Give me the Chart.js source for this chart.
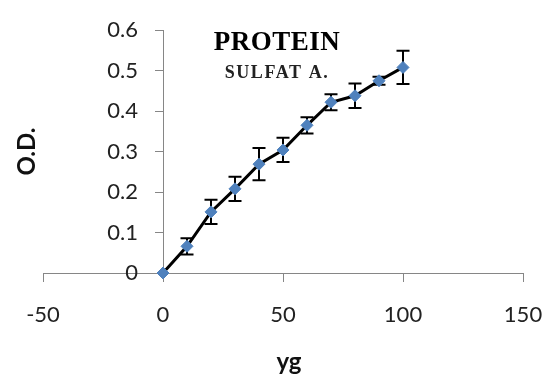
<!DOCTYPE html>
<html>
<head>
<meta charset="utf-8">
<script src="https://cdn.jsdelivr.net/npm/chart.js@4/dist/chart.umd.min.js"></script>
<style>
html,body{margin:0;padding:0;background:#fff;}
#wrap{position:relative;width:547px;height:378px;}
</style>
</head>
<body>
<div id="wrap"><canvas id="c" width="547" height="378"></canvas></div>
<script>
const concentrations = [0, 10, 20, 30, 40, 50, 60, 70, 80, 90, 100];
const odValues = [0, 0.066, 0.151, 0.208, 0.269, 0.304, 0.365, 0.422, 0.438, 0.475, 0.508];
const odErrors = [0, 0.02, 0.03, 0.03, 0.04, 0.03, 0.02, 0.02, 0.03, 0.01, 0.041];
const xTicks = [-50, 0, 50, 100, 150];
const yTicks = [0, 0.1, 0.2, 0.3, 0.4, 0.5, 0.6];
const chartTitle = 'PROTEIN';
const chartSubtitle = 'SULFAT A.';
const xTitle = 'yg';
const yTitle = 'O.D.';

const points = concentrations.map((x, i) => ({x: x, y: odValues[i]}));

const errorBars = {
  id: 'errorBars',
  beforeDatasetsDraw(chart) {
    const {ctx, scales: {x, y}} = chart;
    ctx.save();
    ctx.strokeStyle = '#000';
    ctx.lineWidth = 2;
    concentrations.forEach((c, i) => {
      const e = odErrors[i];
      if (!e) return;
      const px = x.getPixelForValue(c);
      const top = y.getPixelForValue(odValues[i] + e);
      const bot = y.getPixelForValue(odValues[i] - e);
      ctx.beginPath();
      ctx.moveTo(px, top); ctx.lineTo(px, bot);
      ctx.moveTo(px - 6.5, top); ctx.lineTo(px + 6.5, top);
      ctx.moveTo(px - 6.5, bot); ctx.lineTo(px + 6.5, bot);
      ctx.stroke();
    });
    ctx.restore();
  }
};

// y axis sits at x = 0; move its labels left of the tick marks
const yLabelShift = {
  id: 'yLabelShift',
  beforeDraw(chart) {
    const s = chart.scales.y;
    const items = s.getLabelItems(chart.chartArea);
    if (items && !items._shifted) {
      items.forEach(it => { it.options.translation[0] -= 25; });
      items._shifted = true;
    }
  }
};

const texts = {
  id: 'texts',
  afterDraw(chart) {
    const ctx = chart.ctx;
    ctx.save();
    ctx.fillStyle = '#000';
    ctx.textAlign = 'center';
    ctx.textBaseline = 'alphabetic';
    ctx.font = 'bold 27px "Liberation Serif", "Times New Roman", serif';
    ctx.letterSpacing = '0.5px';
    ctx.fillText(chartTitle, 277, 50);
    ctx.font = 'bold 18px "Liberation Serif", "Times New Roman", serif';
    ctx.letterSpacing = '1.6px';
    ctx.fillStyle = '#222';
    ctx.fillText(chartSubtitle, 277, 77.5);
    ctx.letterSpacing = '0px';
    ctx.fillStyle = '#111';
    ctx.font = 'bold 24px Lato, "Open Sans", sans-serif';
    ctx.fillText(xTitle, 289, 370);
    ctx.translate(35, 151.5);
    ctx.rotate(-Math.PI / 2);
    ctx.fillText(yTitle, 0, 0);
    ctx.restore();
  }
};

new Chart(document.getElementById('c'), {
  type: 'line',
  data: {
    datasets: [{
      data: points,
      borderColor: '#000',
      borderWidth: 3,
      pointStyle: 'rectRot',
      pointRadius: 6,
      pointHoverRadius: 6,
      pointBackgroundColor: '#4F81BD',
      pointBorderColor: '#4F81BD',
      pointBorderWidth: 1,
      tension: 0,
      clip: false
    }]
  },
  options: {
    responsive: false,
    animation: false,
    events: [],
    layout: {padding: {left: 43, right: 24, top: 27, bottom: 0}},
    plugins: {legend: {display: false}, tooltip: {enabled: false}, title: {display: false}},
    scales: {
      x: {
        type: 'linear',
        position: 'bottom',
        min: xTicks[0],
        max: xTicks[xTicks.length - 1],
        afterBuildTicks: s => { s.ticks = xTicks.map(v => ({value: v})); },
        afterFit: s => { s.height = 105; s.paddingLeft = 0; s.paddingRight = 0; },
        border: {display: true, color: '#868686', width: 1},
        grid: {display: true, drawOnChartArea: false, drawTicks: true, tickLength: 9, color: '#868686'},
        ticks: {font: {family: 'Lato', size: 22}, color: '#222', padding: 20, maxRotation: 0, autoSkip: false}
      },
      y: {
        type: 'linear',
        position: {x: 0},
        min: yTicks[0],
        max: yTicks[yTicks.length - 1],
        afterBuildTicks: s => { s.ticks = yTicks.map(v => ({value: v})); },
        border: {display: true, color: '#868686', width: 1},
        grid: {display: true, drawOnChartArea: false, drawTicks: true, tickLength: 8, color: '#868686'},
        ticks: {font: {family: 'Lato', size: 22}, color: '#222', padding: 17, autoSkip: false,
          callback: v => String(+v.toFixed(1))}
      }
    }
  },
  plugins: [yLabelShift, errorBars, texts]
});
</script>
</body>
</html>
